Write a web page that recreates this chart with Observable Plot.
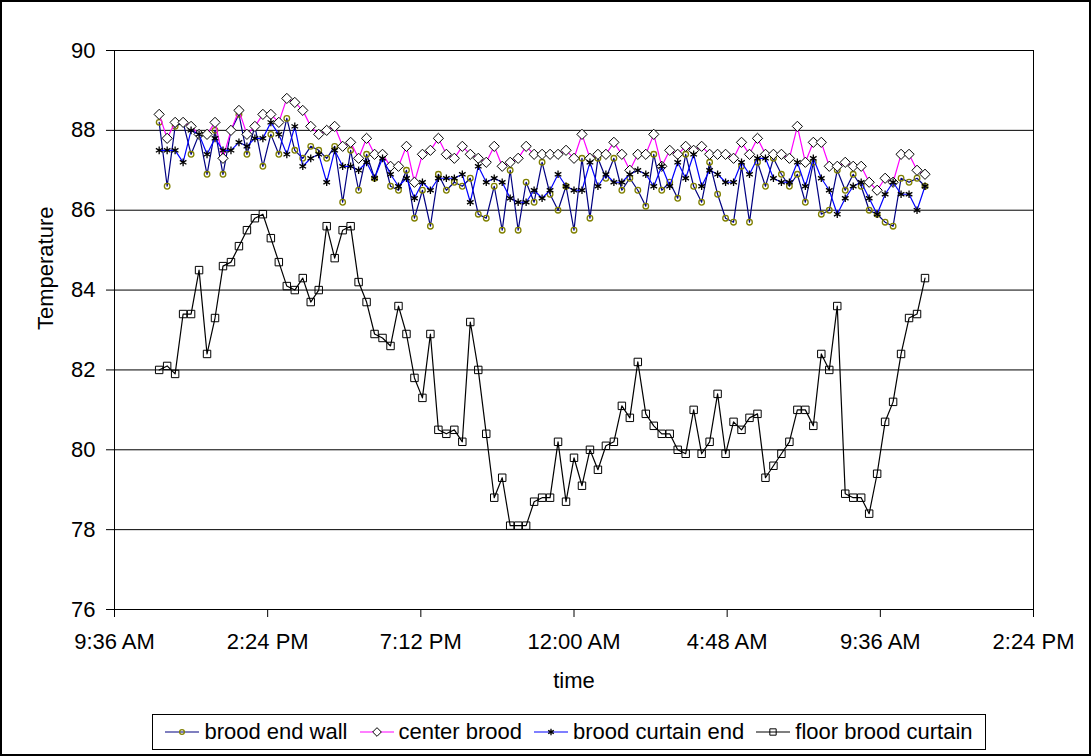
<!DOCTYPE html>
<html>
<head>
<meta charset="utf-8">
<script src="https://cdn.jsdelivr.net/npm/d3@7"></script>
<script src="https://cdn.jsdelivr.net/npm/@observablehq/plot@0.6"></script>
<style>
  html, body { margin: 0; padding: 0; background: #fff; }
  body { font-family: "Liberation Sans", Arial, sans-serif; }
  #wrap { position: relative; width: 1091px; height: 756px; overflow: hidden; background: #fff; }
  #frame { position: absolute; left: 0; top: 0; width: 1091px; height: 756px; box-sizing: border-box; border: 2px solid #000; pointer-events: none; }
  #chart { position: absolute; left: 0; top: 0; }
  #legend { position: absolute; left: 152px; top: 714px; width: 834px; height: 36px; box-sizing: border-box;
            border: 1px solid #000; display: flex; align-items: center; justify-content: center;
            font-size: 22px; color: #000; background: #fff; }
  .item { display: flex; align-items: center; margin: 0 6px; white-space: nowrap; }
  .item svg { margin-right: 5px; }
</style>
</head>
<body>
<div id="wrap">
  <div id="chart"></div>
  <div id="legend"></div>
  <div id="frame"></div>
</div>
<script>
// ---- data (readings every 15 minutes, starting 11:00 AM) ----
const startHour = 11.0;           // hours after midnight of day 1
const intervalMinutes = 15;

const broodEndWall = [88.2,86.6,88.1,88.2,87.4,87.9,86.9,88.0,86.9,88.0,88.4,87.4,88.1,87.1,87.9,87.4,88.3,87.5,87.3,87.6,
  87.5,87.3,87.6,86.2,87.5,86.5,87.4,86.8,87.4,86.6,86.5,87.0,85.8,86.5,85.6,86.9,86.5,86.7,86.6,86.8,
  85.9,85.8,86.6,85.5,87.0,85.5,86.7,86.2,87.2,86.4,86.0,86.6,85.5,87.3,85.8,87.3,86.8,87.3,86.5,86.8,
  86.5,86.1,87.4,86.5,86.7,86.3,87.4,86.6,86.2,87.2,86.4,85.8,85.7,87.1,85.7,87.2,86.6,87.3,86.9,86.6,
  86.9,86.2,87.2,85.9,86.0,87.0,86.5,86.9,86.6,86.0,85.9,85.7,85.6,86.8,86.7,86.8,86.6];

const centerBrood = [88.4,87.8,88.2,88.2,88.1,87.9,87.9,88.2,87.3,88.0,88.5,87.9,88.1,88.4,88.4,88.2,88.8,88.7,88.5,88.1,
  87.9,88.0,88.1,87.6,87.7,87.3,87.8,87.4,87.4,87.1,87.1,87.6,86.7,87.4,87.5,87.8,87.4,87.3,87.6,87.4,
  87.3,87.2,87.6,87.1,87.2,87.3,87.6,87.4,87.4,87.4,87.4,87.5,87.3,87.9,87.3,87.4,87.4,87.7,87.4,87.0,
  87.4,87.4,87.9,87.1,87.5,87.4,87.6,87.5,87.6,87.4,87.4,87.4,87.3,87.7,87.4,87.8,87.4,87.4,87.4,87.3,
  88.1,87.2,87.7,87.7,87.1,87.1,87.2,87.1,87.1,86.7,86.5,86.8,86.7,87.4,87.4,87.0,86.9];

const broodCurtainEnd = [87.5,87.5,87.5,87.2,88.0,87.9,87.4,87.8,87.5,87.5,87.7,87.6,87.8,87.8,88.2,87.9,87.4,88.1,87.1,87.3,
  87.4,86.7,87.5,87.1,87.1,87.0,87.2,86.8,87.3,86.9,86.6,86.8,86.3,86.7,86.5,86.8,86.8,86.8,86.9,86.2,
  87.1,86.7,86.8,86.7,86.3,86.2,86.2,86.5,86.3,86.5,86.9,86.6,86.5,86.5,87.2,86.6,86.9,86.7,86.7,86.9,
  87.0,86.9,86.6,87.1,86.6,87.2,86.8,87.4,86.6,87.0,86.9,86.7,86.7,87.2,86.9,87.3,87.3,86.8,86.7,86.7,
  87.2,86.6,87.3,86.8,86.5,85.9,86.3,86.6,86.7,86.3,85.9,86.4,86.7,86.4,86.4,86.0,86.6];

const floorBroodCurtain = [82.0,82.1,81.9,83.4,83.4,84.5,82.4,83.3,84.6,84.7,85.1,85.5,85.8,85.9,85.3,84.7,84.1,84.0,84.3,83.7,
  84.0,85.6,84.8,85.5,85.6,84.2,83.7,82.9,82.8,82.6,83.6,82.9,81.8,81.3,82.9,80.5,80.4,80.5,80.2,83.2,
  82.0,80.4,78.8,79.3,78.1,78.1,78.1,78.7,78.8,78.8,80.2,78.7,79.8,79.1,80.0,79.5,80.1,80.2,81.1,80.8,
  82.2,80.9,80.6,80.4,80.4,80.0,79.9,81.0,79.9,80.2,81.4,79.9,80.7,80.5,80.8,80.9,79.3,79.6,79.9,80.2,
  81.0,81.0,80.6,82.4,82.0,83.6,78.9,78.8,78.8,78.4,79.4,80.7,81.2,82.4,83.3,83.4,84.3];

const seriesNames = ["brood end wall", "center brood", "brood curtain end", "floor brood curtain"];

// axis ticks (hours after midnight of day 1) and their labels
const xTicks = [9.6, 14.4, 19.2, 24.0, 28.8, 33.6, 38.4];
const xTickLabels = ["9:36 AM", "2:24 PM", "7:12 PM", "12:00 AM", "4:48 AM", "9:36 AM", "2:24 PM"];
const yTicks = [76, 78, 80, 82, 84, 86, 88, 90];

// ---- styles ----
const styles = [
  {line: "#000080", symbol: "circle", r: 2.8, fill: "none", stroke: "#808000", sw: 1.3},
  {line: "#FF00FF", symbol: "diamond2", r: 4.6, fill: "#fff", stroke: "#000", sw: 1},
  {line: "#0000FF", symbol: "asterisk", r: 3.6, fill: "none", stroke: "#000", sw: 1.3},
  {line: "#000000", symbol: "square", r: 4.2, fill: "none", stroke: "#000", sw: 1}
];

const valuesList = [broodEndWall, centerBrood, broodCurtainEnd, floorBroodCurtain];
const tables = valuesList.map((vals, s) =>
  vals.map((v, i) => ({series: seriesNames[s], t: startHour + i * intervalMinutes / 60, v})));

const marks = [
  Plot.gridY(yTicks, {stroke: "#000", strokeOpacity: 1, strokeWidth: 1}),
  Plot.frame({stroke: "#000", strokeWidth: 1}),
];
tables.forEach((tbl, s) => {
  const st = styles[s];
  marks.push(Plot.line(tbl, {x: "t", y: "v", stroke: st.line, strokeWidth: 1.2}));
  marks.push(Plot.dot(tbl, {x: "t", y: "v", symbol: st.symbol, r: st.r, fill: st.fill, stroke: st.stroke, strokeWidth: st.sw}));
});
marks.push(
  Plot.axisY({ticks: yTicks, tickSize: 8, tickPadding: 11, label: null, fontSize: 22, tickFormat: d => String(d)}),
  Plot.axisX({ticks: xTicks, tickSize: 8, tickPadding: 16, label: null, fontSize: 22,
              tickFormat: d => xTickLabels[xTicks.indexOf(d)]}),
  Plot.text(["time"], {frameAnchor: "bottom", lineAnchor: "top", dy: 63, fontSize: 22, fill: "#000"}),
  Plot.text(["Temperature"], {frameAnchor: "left", dx: -69, rotate: -90, fontSize: 22, fill: "#000"})
);

const chart = Plot.plot({
  width: 1091,
  height: 700,
  marginLeft: 114,
  marginRight: 58,
  marginTop: 50,
  marginBottom: 91,
  x: {type: "linear", domain: [9.6, 38.4]},
  y: {type: "linear", domain: [76, 90]},
  style: {fontFamily: "'Liberation Sans', Arial, sans-serif", fontSize: "22px", color: "#000", background: "transparent"},
  marks
});
document.getElementById("chart").appendChild(chart);

// ---- legend ----
const legend = document.getElementById("legend");
const ns = "http://www.w3.org/2000/svg";
seriesNames.forEach((name, s) => {
  const st = styles[s];
  const item = document.createElement("div");
  item.className = "item";
  const sw = document.createElementNS(ns, "svg");
  sw.setAttribute("width", 34); sw.setAttribute("height", 20);
  const ln = document.createElementNS(ns, "line");
  ln.setAttribute("x1", 0); ln.setAttribute("x2", 34); ln.setAttribute("y1", 10); ln.setAttribute("y2", 10);
  ln.setAttribute("stroke", st.line); ln.setAttribute("stroke-width", 1.2);
  sw.appendChild(ln);
  const p = document.createElementNS(ns, "path");
  const sym = {circle: d3.symbolCircle, diamond2: d3.symbolDiamond2, asterisk: d3.symbolAsterisk, square: d3.symbolSquare}[st.symbol];
  p.setAttribute("d", d3.symbol(sym, Math.PI * (st.r * 0.85) ** 2)());
  p.setAttribute("transform", "translate(17,10)");
  p.setAttribute("fill", st.fill); p.setAttribute("stroke", st.stroke); p.setAttribute("stroke-width", st.sw);
  sw.appendChild(p);
  item.appendChild(sw);
  const tx = document.createElement("span");
  tx.textContent = name;
  item.appendChild(tx);
  legend.appendChild(item);
});
</script>
</body>
</html>
